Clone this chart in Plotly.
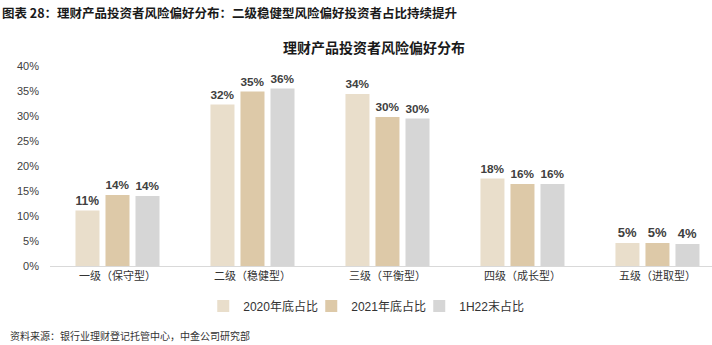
import plotly.graph_objects as go

# Risk-preference levels of wealth-management investors
categories = ["一级（保守型）", "二级（稳健型）", "三级（平衡型）", "四级（成长型）", "五级（进取型）"]

# Share of investors at each level
share_2020 = [0.111, 0.323, 0.344, 0.175, 0.046]
share_2021 = [0.142, 0.349, 0.298, 0.164, 0.046]
share_1h22 = [0.140, 0.355, 0.295, 0.164, 0.044]

series_names = ["2020年底占比", "2021年底占比", "1H22末占比"]
series_colors = ["#E9DECB", "#DDC9A8", "#D6D6D6"]

FONT = "Liberation Sans, Arial, Noto Sans CJK SC, sans-serif"
CJK_BOLD = "Noto Sans CJK SC, sans-serif"

# Plot area in pixels: x 50..712, y 66..266 (200 px for 0..40%)
PLOT_L, PLOT_W, PLOT_T, PLOT_H = 50, 662, 66, 200

fig = go.Figure()
for name, vals, color in zip(series_names, [share_2020, share_2021, share_1h22], series_colors):
    fig.add_trace(go.Bar(
        x=categories,
        y=vals,
        name=name,
        marker=dict(color=color, line=dict(width=0)),
        texttemplate="%{y:.0%}",
        textposition="outside",
        textfont=dict(family=FONT, size=13, color="#404040", weight="bold"),
        cliponaxis=False,
    ))

fig.update_layout(
    width=712,
    height=345,
    paper_bgcolor="white",
    plot_bgcolor="white",
    barmode="group",
    bargap=0.333,
    bargroupgap=0.2,
    margin=dict(l=PLOT_L, r=0, t=PLOT_T, b=345 - PLOT_T - PLOT_H),
    font=dict(family=FONT, size=11, color="#333333"),
    xaxis=dict(
        range=[-0.5, 4.404],
        showline=True,
        linecolor="#D9D9D9",
        linewidth=1,
        ticks="",
        showgrid=False,
        tickfont=dict(size=11, color="#333333"),
    ),
    yaxis=dict(
        range=[0, 0.40],
        dtick=0.05,
        tickformat=".0%",
        showgrid=False,
        zeroline=False,
        showline=False,
        ticks="",
        ticklabelstandoff=10,
        tickfont=dict(size=11, color="#404040"),
    ),
    legend=dict(
        orientation="h",
        xref="container",
        yref="container",
        x=0.513,
        xanchor="center",
        y=1 - 306 / 345,
        yanchor="middle",
        font=dict(size=12, color="#333333"),
        itemwidth=30,
        entrywidth=63,
        entrywidthmode="pixels",
        traceorder="normal",
    ),
    showlegend=True,
)

# Figure caption, chart heading and source note
fig.add_annotation(
    text="<b>图表 28：理财产品投资者风险偏好分布：二级稳健型风险偏好投资者占比持续提升</b>",
    xref="paper", yref="paper",
    x=-PLOT_L / PLOT_W, y=1 + (PLOT_T - 13) / PLOT_H,
    xanchor="left", yanchor="middle", showarrow=False,
    font=dict(family=CJK_BOLD, size=12.5, color="#1a1a1a"),
)
fig.add_annotation(
    text="<b>理财产品投资者风险偏好分布</b>",
    xref="paper", yref="paper",
    x=(374 - PLOT_L) / PLOT_W, y=1 + (PLOT_T - 47) / PLOT_H,
    xanchor="center", yanchor="middle", showarrow=False,
    font=dict(family=CJK_BOLD, size=14, color="#1a1a1a"),
)
fig.add_annotation(
    text="资料来源：银行业理财登记托管中心，中金公司研究部",
    xref="paper", yref="paper",
    x=-42 / PLOT_W, y=-(335 - PLOT_T - PLOT_H) / PLOT_H,
    xanchor="left", yanchor="middle", showarrow=False,
    font=dict(family=CJK_BOLD, size=10, color="#333333"),
)

fig.write_html("out.html")
